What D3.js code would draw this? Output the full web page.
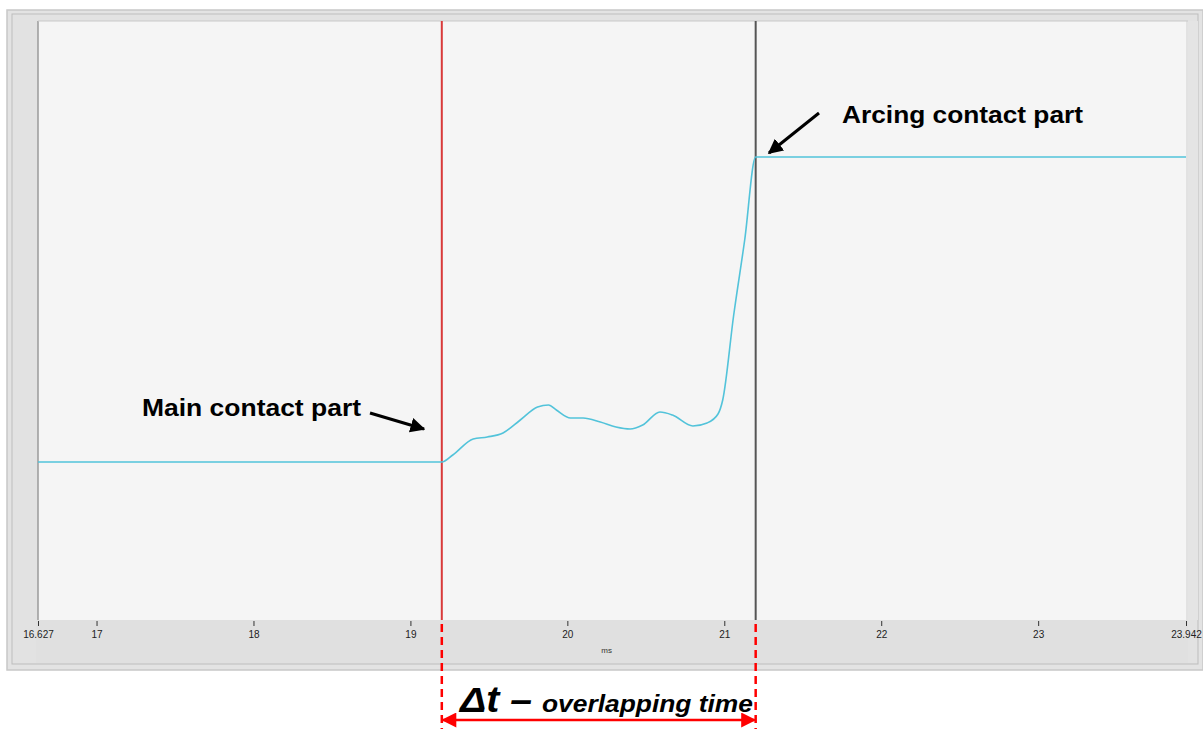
<!DOCTYPE html>
<html>
<head>
<meta charset="utf-8">
<script src="https://cdn.jsdelivr.net/npm/d3@7"></script>
<style>
  html, body { margin: 0; padding: 0; background: #ffffff; }
  svg { display: block; }
</style>
</head>
<body>
<svg id="chart" width="1203" height="729"></svg>
<script>
// Contact travel trace over time (ms)
const timeMs = [16.627, 19.20, 19.27, 19.40, 19.49, 19.59, 19.70, 19.81, 19.88, 19.93,
                20.02, 20.10, 20.21, 20.31, 20.40, 20.48, 20.59, 20.67, 20.80, 20.89,
                20.96, 20.99, 21.06, 21.13, 21.20, 23.942];
const signal = [15.8, 15.8, 16.5, 18.1, 18.3, 18.7, 20.0, 21.3, 21.5, 21.0,
                20.2, 20.2, 19.8, 19.3, 19.1, 19.5, 20.8, 20.5, 19.4, 19.7,
                20.6, 22.0, 30.5, 38.0, 46.3, 46.3];

// Axis ticks
const tickValues = [16.627, 17, 18, 19, 20, 21, 22, 23, 23.942];
const tickLabels = ["16.627", "17", "18", "19", "20", "21", "22", "23", "23.942"];
const axisUnit = "ms";

// Marker times
const mainContactTime = 19.2;
const arcingContactTime = 21.2;

// Annotation texts
const mainLabel = "Main contact part";
const arcLabel = "Arcing contact part";
const deltaLabel = "Δt –";
const overlapLabel = "overlapping time";

const svg = d3.select("#chart");

const plotLeft = 38, plotRight = 1186, plotTop = 21, plotBottom = 620;

const x = d3.scaleLinear().domain([16.627, 23.942]).range([plotLeft, plotRight]);
const y = d3.scaleLinear().domain([0, 59.9]).range([plotBottom, plotTop]);

// Outer window frame
svg.append("rect").attr("x", 7).attr("y", 10).attr("width", 1196).attr("height", 660)
  .attr("fill", "#e3e3e3").attr("stroke", "#c8c8c8").attr("stroke-width", 1.5);
svg.append("rect").attr("x", 12).attr("y", 14).attr("width", 1186).attr("height", 650)
  .attr("fill", "#e2e2e2").attr("stroke", "#bdbdbd").attr("stroke-width", 1);

// Axis band
svg.append("rect").attr("x", 36).attr("y", plotBottom).attr("width", plotRight - 36 + 2).attr("height", 43)
  .attr("fill", "#e0e0e0");

// Plot area
svg.append("rect").attr("x", plotLeft).attr("y", plotTop)
  .attr("width", plotRight - plotLeft).attr("height", plotBottom - plotTop)
  .attr("fill", "#f5f5f5");
svg.append("line").attr("x1", plotLeft).attr("x2", plotLeft).attr("y1", plotTop).attr("y2", plotBottom)
  .attr("stroke", "#9a9a9a").attr("stroke-width", 1.5);
svg.append("line").attr("x1", plotLeft).attr("x2", plotRight + 2).attr("y1", plotTop).attr("y2", plotTop)
  .attr("stroke", "#c9c9c9").attr("stroke-width", 1);
svg.append("rect").attr("x", plotRight + 2).attr("y", plotTop).attr("width", 10).attr("height", plotBottom - plotTop)
  .attr("fill", "#e4e4e4");

// X axis
const xAxis = d3.axisBottom(x)
  .tickValues(tickValues)
  .tickFormat((d, i) => tickLabels[i])
  .tickSize(5)
  .tickPadding(5);
const gx = svg.append("g").attr("transform", `translate(0,${plotBottom + 1})`).call(xAxis);
gx.select(".domain").remove();
gx.selectAll(".tick line").attr("stroke", "#333");
gx.selectAll(".tick text").attr("fill", "#222").attr("font-family", "Liberation Sans, Arial, sans-serif")
  .attr("font-size", 10);
svg.append("text").attr("x", x(20.25)).attr("y", 653).attr("text-anchor", "middle")
  .attr("font-family", "Liberation Sans, Arial, sans-serif").attr("font-size", 8).attr("fill", "#333")
  .text(axisUnit);

// Marker lines
svg.append("line").attr("x1", x(mainContactTime)).attr("x2", x(mainContactTime))
  .attr("y1", plotTop).attr("y2", plotBottom)
  .attr("stroke", "#d93a3a").attr("stroke-width", 2);
svg.append("line").attr("x1", x(arcingContactTime)).attr("x2", x(arcingContactTime))
  .attr("y1", plotTop).attr("y2", plotBottom)
  .attr("stroke", "#555555").attr("stroke-width", 2);

// Trace
const line = d3.line().x((d, i) => x(timeMs[i])).y(d => y(d)).curve(d3.curveMonotoneX);
svg.append("path").datum(signal).attr("d", line)
  .attr("fill", "none").attr("stroke", "#52c3da").attr("stroke-width", 1.6)
  .attr("stroke-linejoin", "round");

// Arrow markers
const defs = svg.append("defs");
defs.append("marker").attr("id", "blackHead").attr("viewBox", "0 0 10 10")
  .attr("refX", 9).attr("refY", 5).attr("markerWidth", 5).attr("markerHeight", 5)
  .attr("markerUnits", "strokeWidth").attr("orient", "auto")
  .append("path").attr("d", "M0,0 L10,5 L0,10 Z").attr("fill", "#000");
defs.append("marker").attr("id", "redHead").attr("viewBox", "0 0 10 10")
  .attr("refX", 9).attr("refY", 5).attr("markerWidth", 8).attr("markerHeight", 6)
  .attr("markerUnits", "strokeWidth").attr("orient", "auto-start-reverse")
  .append("path").attr("d", "M0,0 L10,5 L0,10 Z").attr("fill", "#ff0000");

const boldFont = "Liberation Sans, Arial, sans-serif";

// Main contact annotation
svg.append("text").attr("x", 142).attr("y", 416).attr("font-family", boldFont)
  .attr("font-weight", "bold").attr("font-size", 24).attr("fill", "#000")
  .attr("textLength", 219).attr("lengthAdjust", "spacingAndGlyphs").text(mainLabel);
svg.append("line").attr("x1", 370).attr("y1", 413).attr("x2", 424).attr("y2", 429)
  .attr("stroke", "#000").attr("stroke-width", 3).attr("marker-end", "url(#blackHead)");

// Arcing contact annotation
svg.append("text").attr("x", 842).attr("y", 123).attr("font-family", boldFont)
  .attr("font-weight", "bold").attr("font-size", 24).attr("fill", "#000")
  .attr("textLength", 241).attr("lengthAdjust", "spacingAndGlyphs").text(arcLabel);
svg.append("line").attr("x1", 819).attr("y1", 113).attr("x2", 769).attr("y2", 153)
  .attr("stroke", "#000").attr("stroke-width", 3).attr("marker-end", "url(#blackHead)");

// Overlap span: dashed guides and double-headed arrow
[mainContactTime, arcingContactTime].forEach(t => {
  svg.append("line").attr("x1", x(t)).attr("x2", x(t)).attr("y1", plotBottom + 4).attr("y2", 729)
    .attr("stroke", "#ff0000").attr("stroke-width", 2.5).attr("stroke-dasharray", "8,5");
});
svg.append("line").attr("x1", x(mainContactTime) + 1).attr("x2", x(arcingContactTime) - 1)
  .attr("y1", 720).attr("y2", 720)
  .attr("stroke", "#ff0000").attr("stroke-width", 2.5)
  .attr("marker-start", "url(#redHead)").attr("marker-end", "url(#redHead)");

svg.append("text").attr("x", 460).attr("y", 712).attr("font-family", boldFont)
  .attr("font-weight", "bold").attr("font-style", "italic").attr("fill", "#000")
  .attr("font-size", 36).attr("textLength", 72).attr("lengthAdjust", "spacingAndGlyphs")
  .text(deltaLabel);
svg.append("text").attr("x", 542).attr("y", 712).attr("font-family", boldFont)
  .attr("font-weight", "bold").attr("font-style", "italic").attr("fill", "#000")
  .attr("font-size", 23).attr("textLength", 211).attr("lengthAdjust", "spacingAndGlyphs")
  .text(overlapLabel);
</script>
</body>
</html>
